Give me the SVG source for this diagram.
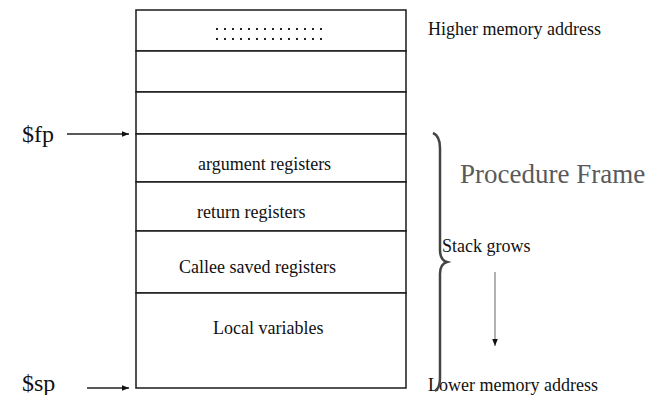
<svg xmlns="http://www.w3.org/2000/svg" width="653" height="395" viewBox="0 0 653 395">
<defs>
<style>
text{font-family:"Liberation Serif","Times New Roman",serif;fill:#111}
.t{font-size:18px}
.big{font-size:24px}
.pf{font-size:27px;fill:#5a5a5a}
.cell{fill:#fff;stroke:#1a1a1a;stroke-width:1.5}
.conn{stroke:#222;stroke-width:1.3;fill:none}
</style>
<marker id="ah" viewBox="0 0 10 10" refX="10" refY="5" markerWidth="7" markerHeight="7" markerUnits="userSpaceOnUse" orient="auto">
<path d="M0,1 L10,5 L0,9 z" fill="#111"/>
</marker>
</defs>
<rect width="653" height="395" fill="#fff"/>
<g id="stack">
<g id="cell-top"><rect class="cell" x="136" y="10" width="270" height="41"/>
<line x1="216" y1="29" x2="326" y2="29" stroke="#222" stroke-width="2" stroke-dasharray="2 6"/>
<line x1="216" y1="39" x2="326" y2="39" stroke="#222" stroke-width="2" stroke-dasharray="2 6"/></g>
<g id="cell-2"><rect class="cell" x="136" y="51" width="270" height="41"/></g>
<g id="cell-3"><rect class="cell" x="136" y="92" width="270" height="42"/></g>
<g id="cell-args"><rect class="cell" x="136" y="134" width="270" height="48"/><text class="t" x="198" y="170">argument registers</text></g>
<g id="cell-ret"><rect class="cell" x="136" y="182" width="270" height="49"/><text class="t" x="197" y="218">return registers</text></g>
<g id="cell-callee"><rect class="cell" x="136" y="231" width="270" height="62"/><text class="t" x="179" y="273">Callee saved registers</text></g>
<g id="cell-local"><rect class="cell" x="136" y="293" width="270" height="95"/><text class="t" x="213" y="334">Local variables</text></g>
</g>
<g id="labels">
<text class="t" x="428" y="35">Higher memory address</text>
<text class="t" x="428" y="391">Lower memory address</text>
<text class="big" x="22" y="142">$fp</text>
<text class="big" x="22" y="391">$sp</text>
<text class="pf" x="460" y="183">Procedure Frame</text>
<text class="t" x="442" y="252">Stack grows</text>
</g>
<g id="connectors">
<line class="conn" x1="67" y1="134" x2="129" y2="134" marker-end="url(#ah)"/>
<line class="conn" x1="87" y1="388" x2="129" y2="388" marker-end="url(#ah)"/>
<line x1="495" y1="272" x2="495" y2="346" stroke="#999" stroke-width="1.5" marker-end="url(#ah)"/>
<path d="M433,133 Q440,136 440,148 L440,250 Q440,260 447,262 Q440,264 440,274 L440,378 Q440,388 435,391" fill="none" stroke="#444" stroke-width="2.5"/>
</g>
</svg>
